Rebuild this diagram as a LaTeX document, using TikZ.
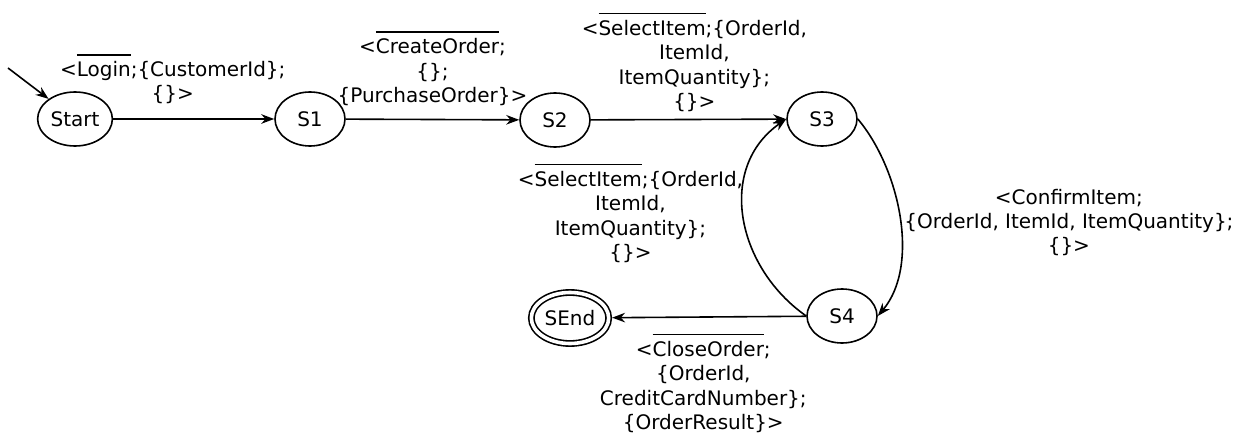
\documentclass[tikz,border=0pt]{standalone}
\usepackage{fontspec}
\setmainfont{DejaVu Sans}
\usetikzlibrary{shapes.geometric,arrows.meta}
\newsavebox\ovlbox
\newcommand\ovl[1]{\sbox\ovlbox{#1}\rlap{\raisebox{1.05em}{\rule{\wd\ovlbox}{0.7pt}}}\usebox\ovlbox}

\begin{document}
\begin{tikzpicture}[x=0.5pt, y=0.5pt, >={Stealth[length=6.5pt,width=4.8pt]}, line width=0.8pt]

    \tikzset{%
    every state/.style={
        ellipse,
        draw,
        minimum width=35pt,
        minimum height=27pt,
        inner sep=1pt,
        font=\fontsize{10}{12.2}\selectfont
        },
    state final/.style={
        double,
        double distance=1.8pt,
        minimum width=36pt,
        minimum height=25.5pt,
        outer sep=1.7pt
        },
    message/.style={
        align=center,
        inner sep=2pt,
        font=\fontsize{10}{12.2}\selectfont
        },
    }

    \useasboundingbox (0,0) rectangle (1245,434);

    % States of the order protocol
    \node [every state] (start) at (75,315) {Start};
    \node [every state] (s1) at (310,315) {S1};
    \node [every state] (s2) at (555,314) {S2};
    \node [every state] (s3) at (822,315) {S3};
    \node [every state] (s4) at (842,118) {S4};
    \node [every state, state final] (send) at (570,116) {SEnd};

    % Initial arrow
    \coordinate (init) at (8,366);
    \draw [->] (init) -- (start);

    % Transitions along the top row
    \draw [->] (start) -- node [message, above=5pt, pos=0.37] (m-login)
        {<\ovl{Login};\{CustomerId\};\\\{\}>} (s1);
    \draw [->] (s1) -- node [message, above=4.5pt] (m-create)
        {<\ovl{CreateOrder};\\\{\};\\\{PurchaseOrder\}>} (s2);
    \draw [->] (s2) -- node [message, above=1.5pt, pos=0.53] (m-select1)
        {<\ovl{SelectItem};\{OrderId,\\ItemId,\\ItemQuantity\};\\\{\}>} (s3);

    % Loop between S3 and S4
    \draw [->] (s3.east) to [out=-50, in=50, looseness=0.85] node [message, right, yshift=-2.5pt] (m-confirm)
        {<ConfirmItem;\\\{OrderId, ItemId, ItemQuantity\};\\\{\}>} (s4.east);
    \draw [->] (s4.west) to [out=145, in=-145, looseness=1.1] node [message, left, inner sep=0pt, yshift=2pt] (m-select2)
        {<\ovl{SelectItem};\{OrderId,\\ItemId,\\ItemQuantity\};\\\{\}>} (s3.west);

    % Closing the order
    \draw [->] (s4) -- node [message, below=6pt, pos=0.53] (m-close)
        {<\ovl{CloseOrder};\\\{OrderId,\\CreditCardNumber\};\\\{OrderResult\}>} (send);

\end{tikzpicture}
\end{document}
